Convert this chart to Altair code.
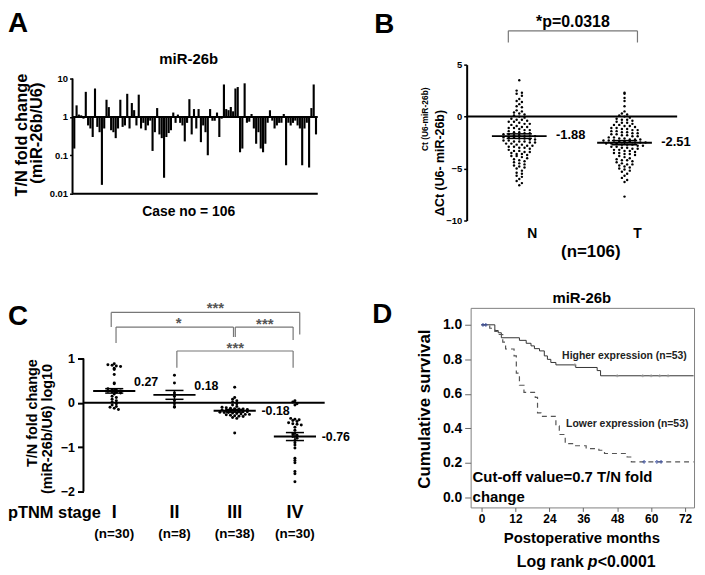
import altair as alt
import pandas as pd

FONT = "Liberation Sans"

# ---------------- Panel A: T/N fold change per case ----------------
fold_change = [
    0.15, 2.0, 1.15, 1.1, 0.9, 4.5, 0.6, 0.5, 0.3, 5.5,
    0.55, 0.4, 0.017, 0.5, 2.8, 1.8, 0.45, 0.4, 0.28, 0.5,
    2.8, 0.55, 0.6, 4.0, 0.5, 2.3, 1.5, 0.6, 3.8, 0.5,
    0.7, 0.45, 0.6, 0.8, 0.13, 0.4, 1.7, 0.35, 0.28, 0.026,
    0.3, 0.38, 0.45, 1.3, 0.7, 1.15, 0.7, 0.6, 0.23, 0.7,
    2.9, 0.35, 1.6, 0.5, 1.6, 0.22, 0.6, 0.4, 0.1, 1.6,
    0.8, 0.8, 1.3, 0.3, 0.9, 7.0, 1.6, 1.5, 1.8, 1.4,
    5.5, 6.0, 0.12, 0.15, 7.5, 0.7, 0.75, 1.2, 0.5, 0.2,
    0.4, 0.15, 0.12, 0.2, 0.7, 1.5, 0.8, 0.5, 0.6, 0.7,
    0.7, 1.2, 0.055, 0.7, 0.6, 0.7, 0.8, 0.6, 0.5, 0.055,
    0.5, 0.7, 0.048, 1.7, 7.0, 0.35,
]

# ---------------- Panel B: delta Ct, N vs T ----------------
b_groups = ["N", "T"]
dct_normal = [
    3.5, 2.5, 2.3, 2.2, 2.0, 1.7, 1.5, 1.4, 1.2, 1.0, 0.9, 0.6, 0.5, 0.4, 0.3, 0.2, 0.1,
    0.0, -0.1, -0.2, -0.3, -0.3, -0.4, -0.5, -0.5, -0.6, -0.7, -0.7, -0.8, -0.9, -1.0, -1.0, -1.1, -1.1,
    -1.2, -1.3, -1.3, -1.4, -1.5, -1.5, -1.6, -1.6, -1.7, -1.7, -1.8, -1.8, -1.9, -1.9, -1.9, -2.0, -2.0,
    -2.0, -2.1, -2.1, -2.2,
    -2.2, -2.3, -2.3, -2.4, -2.4, -2.4, -2.5, -2.5, -2.6, -2.6, -2.7, -2.7, -2.8, -2.8, -2.9, -2.9, -3.0, -3.0,
    -3.1, -3.2, -3.3, -3.3, -3.4, -3.4, -3.5, -3.6, -3.6, -3.7, -3.8, -3.8, -3.9, -4.0,
    -4.1, -4.2, -4.3, -4.4, -4.5, -4.6, -4.7, -4.8, -4.9, -5.0,
    -5.2, -5.4, -5.5, -5.7, -5.8, -6.0, -6.2, -6.4, -6.6,
]
dct_tumor = [
    2.3, 2.2, 1.8, 1.5, 1.0, 0.5, 0.3, 0.2, 0.1, 0.0,
    -0.1, -0.2, -0.3, -0.3, -0.4, -0.5, -0.6, -0.6, -0.7, -0.8, -0.8, -0.9, -0.9, -1.0,
    -1.1, -1.1, -1.2, -1.2, -1.3, -1.3, -1.4, -1.4, -1.5, -1.5, -1.6, -1.6, -1.7, -1.7, -1.8, -1.8, -1.9,
    -1.9, -2.0, -2.0,
    -2.1, -2.1, -2.2, -2.2, -2.2, -2.3, -2.3, -2.3, -2.4, -2.4, -2.4, -2.5, -2.5, -2.5, -2.6, -2.6, -2.6,
    -2.7, -2.7, -2.7, -2.8, -2.8, -2.9, -2.9, -3.0, -3.0,
    -3.1, -3.1, -3.2, -3.2, -3.3, -3.3, -3.4, -3.5, -3.5, -3.6, -3.6, -3.7, -3.8, -3.9, -4.0,
    -4.1, -4.2, -4.2, -4.3, -4.4, -4.5, -4.6, -4.6, -4.7, -4.8, -4.9, -5.0,
    -5.1, -5.2, -5.3, -5.5, -5.7, -5.9, -6.1, -6.3, -7.7,
]
b_means = [-1.88, -2.51]
b_sems = [0.22, 0.20]

# ---------------- Panel C: log10 fold change by pTNM stage ----------------
stage_labels = ["I", "II", "III", "IV"]
stage_counts = [30, 8, 38, 30]
stage_I = [0.88, 0.86, 0.85, 0.83, 0.82, 0.78, 0.75, 0.64, 0.45, 0.43, 0.32, 0.30, 0.29, 0.27, 0.26,
           0.25, 0.24, 0.22, 0.20, 0.15, 0.12, 0.08, 0.05, 0.02, -0.02, -0.05, -0.08, -0.10, -0.12, -0.15]
stage_II = [0.62, 0.45, 0.22, 0.15, 0.05, -0.02, -0.08, -0.10]
stage_III = [0.35, 0.12, 0.08, 0.05, 0.02, -0.02, -0.05, -0.08, -0.10, -0.11, -0.12, -0.13, -0.14, -0.14,
             -0.15, -0.16, -0.17, -0.18, -0.18, -0.19, -0.20, -0.20, -0.21, -0.22, -0.22, -0.23, -0.24,
             -0.25, -0.26, -0.26, -0.27, -0.28, -0.29, -0.30, -0.31, -0.33, -0.35, -0.68]
stage_IV = [0.05, 0.02, -0.02, -0.05, -0.35, -0.37, -0.38, -0.40, -0.42, -0.45, -0.47, -0.48, -0.50,
            -0.55, -0.62, -0.68, -0.70, -0.73, -0.76, -0.80, -0.85, -0.90, -0.95, -1.02, -1.25, -1.30,
            -1.35, -1.55, -1.60, -1.78]
c_means = [0.27, 0.18, -0.18, -0.76]
c_sems = [0.05, 0.10, 0.03, 0.09]
# significance brackets: (left, right, top, left end, right end, label, label x, label y)
c_brackets = [
    (0.95, 4.08, 2.04, 1.71, 1.54, "***", 2.68, 2.2),
    (1.03, 2.98, 1.71, 1.35, 1.485, "*", 2.07, 1.87),
    (3.01, 3.97, 1.71, 1.485, 1.416, "***", 3.5, 1.84),
    (2.04, 3.97, 1.17, 0.79, 0.79, "***", 3.01, 1.31),
]

# ---------------- Panel D: Kaplan-Meier ----------------
high_months = [0, 4.7, 5.9, 7.0, 13.4, 15.8, 17.5, 18.7, 20.5, 22.2, 23.3, 24.5, 26.3, 33.3, 40.9, 42.1, 75]
high_surv = [1.0, 0.967, 0.954, 0.925, 0.91, 0.893, 0.878, 0.862, 0.849, 0.82, 0.80, 0.782, 0.768, 0.753,
             0.735, 0.705, 0.705]
low_months = [0, 2.9, 4.7, 5.9, 7.5, 8.5, 11.5, 12.3, 13.4, 15.0, 19.0, 19.8, 21.0, 26.3, 27.5, 29.6, 33.0,
              37.0, 41.5, 43.5, 51.5, 53.0, 75]
low_surv = [1.0, 0.98, 0.962, 0.944, 0.90, 0.86, 0.82, 0.72, 0.65, 0.609, 0.58, 0.49, 0.47, 0.415, 0.365,
            0.312, 0.30, 0.283, 0.274, 0.255, 0.235, 0.207, 0.207]
cens_months = [0.5, 1.5, 57.5, 62.0, 63.5]
cens_surv = [1.0, 1.0, 0.207, 0.207, 0.207]
high_cens_months = [33.0, 48.0, 57.0, 60.0, 63.0, 66.0]
high_cens_surv = [0.768, 0.705, 0.705, 0.705, 0.705, 0.705]


def swarm(values, binw):
    bins = {}
    for i, v in enumerate(values):
        bins.setdefault(round(v / binw), []).append(i)
    slots = [0.0] * len(values)
    for idx in bins.values():
        n = len(idx)
        for k, i in enumerate(idx):
            slots[i] = k - (n - 1) / 2
    return slots


def label(text, x, y, size, align="center", baseline="alphabetic", angle=None,
          weight="bold", color="black", style=None):
    props = dict(text=text, font=FONT, fontSize=size, fontWeight=weight,
                 align=align, baseline=baseline, color=color)
    if angle is not None:
        props["angle"] = angle
    if style:
        props["fontStyle"] = style
    return alt.Chart(alt.Data(values=[{}])).mark_text(**props).encode(
        x=alt.value(x), y=alt.value(y))


def axis_style(**kw):
    base = dict(grid=False, title=None, labelFont=FONT, labelFontWeight="bold",
                labelColor="black", tickColor="black")
    base.update(kw)
    return alt.Axis(**base)


# ======================= Panel A =======================
dfA = pd.DataFrame({"case": list(range(1, len(fold_change) + 1)), "fc": fold_change})
yA = alt.Scale(type="log", domain=[0.01, 23.0], nice=False)
axA = axis_style(values=[0.01, 0.1, 1, 10], format="~g", domain=False,
                 tickSize=3, tickWidth=1.5, labelFontSize=9.5, labelPadding=2)
barsA = alt.Chart(dfA).mark_bar(color="black").encode(
    x=alt.X("case:O", axis=None, scale=alt.Scale(paddingInner=0.08, paddingOuter=0.3)),
    y=alt.Y("fc:Q", scale=yA, axis=axA),
    y2=alt.datum(1),
)
hlinesA = alt.Chart(pd.DataFrame({"y": [1, 0.01]})).mark_rule(color="black", strokeWidth=2).encode(
    y=alt.Y("y:Q", scale=yA, axis=axA))
vlineA = alt.Chart(pd.DataFrame({"y1": [0.01], "y2": [10]})).mark_rule(color="black", strokeWidth=2).encode(
    x=alt.value(0), y=alt.Y("y1:Q", scale=yA, axis=axA), y2="y2:Q")
panelA = alt.layer(
    barsA, hlinesA, vlineA,
    label("A", -65, -33, 28, align="left"),
    label("miR-26b", 117, -1, 15),
    label("T/N fold change", -46, 71, 16.5, angle=270),
    label("(miR-26b/U6)", -31, 69, 16.5, angle=270),
    label("Case no = " + str(len(fold_change)), 117, 152, 14),
).properties(width=247, height=130)

# ======================= Panel B =======================
rowsB = []
for gi, vals in enumerate([dct_normal, dct_tumor], start=1):
    for v, s in zip(vals, swarm(vals, 0.3)):
        rowsB.append({"g": gi, "v": v, "slot": s})
dfB = pd.DataFrame(rowsB)
xB = alt.Scale(domain=[0.538, 2.5], nice=False, zero=False)
yB = alt.Scale(domain=[-10, 5], nice=False, zero=False)
axB = axis_style(values=[-10, -5, 0, 5], domain=True, domainColor="black", domainWidth=2,
                 offset=4, tickSize=3, tickWidth=1.5, labelFontSize=9.5, labelPadding=2)
dotsB = alt.Chart(dfB).transform_calculate(xp="datum.g + datum.slot * 0.05").mark_circle(
    size=6, color="black", opacity=1).encode(
    x=alt.X("xp:Q", scale=xB, axis=None),
    y=alt.Y("v:Q", scale=yB, axis=axB),
)
statsB = pd.DataFrame({"g": [1, 2], "m": b_means, "sem": b_sems,
                       "lab": [f"{m:.2f}" for m in b_means], "name": b_groups})
baseB = alt.Chart(statsB)
meanB = baseB.transform_calculate(x1="datum.g - 0.26", x2="datum.g + 0.26").mark_rule(
    color="black", strokeWidth=2).encode(
    x=alt.X("x1:Q", scale=xB, axis=None), x2="x2:Q", y=alt.Y("m:Q", scale=yB, axis=axB))
errB = baseB.transform_calculate(lo="datum.m - datum.sem", hi="datum.m + datum.sem").mark_rule(
    color="black", strokeWidth=1.5).encode(
    x=alt.X("g:Q", scale=xB, axis=None), y=alt.Y("lo:Q", scale=yB, axis=axB), y2="hi:Q")
capB = baseB.transform_calculate(x1="datum.g - 0.12", x2="datum.g + 0.12").transform_fold(
    ["m_lo", "m_hi"]).transform_calculate(
    yy="datum.key == 'm_lo' ? datum.m - datum.sem : datum.m + datum.sem").mark_rule(
    color="black", strokeWidth=1.5).encode(
    x=alt.X("x1:Q", scale=xB, axis=None), x2="x2:Q", y=alt.Y("yy:Q", scale=yB, axis=axB))
meanLabB = baseB.mark_text(align="left", baseline="middle", dx=37, dy=-1, font=FONT,
                           fontSize=13, fontWeight="bold", color="black").encode(
    x=alt.X("g:Q", scale=xB, axis=None), y=alt.Y("m:Q", scale=yB, axis=axB), text="lab:N")
nameB = baseB.mark_text(align="center", baseline="alphabetic", dx=13, font=FONT, fontSize=14,
                        fontWeight="bold", color="black").encode(
    x=alt.X("g:Q", scale=xB, axis=None), y=alt.value(175), text="name:N")
zeroB = alt.Chart(pd.DataFrame({"x1": [0.5], "x2": [2.5], "y": [0]})).mark_rule(
    color="black", strokeWidth=2).encode(
    x=alt.X("x1:Q", scale=xB, axis=None), x2="x2:Q", y=alt.Y("y:Q", scale=yB, axis=axB))
brB = pd.DataFrame({"x1": [0.896, 0.896, 2.123], "x2": [2.123, 0.896, 2.123],
                    "y1": [8.25, 8.25, 8.25], "y2": [8.25, 7.13, 7.13]})
bracketB = alt.Chart(brB).mark_rule(color="#777777", strokeWidth=1.2).encode(
    x=alt.X("x1:Q", scale=xB, axis=None), x2="x2:Q",
    y=alt.Y("y1:Q", scale=yB, axis=axB), y2="y2:Q")
panelB = alt.layer(
    zeroB, dotsB, meanB, errB, capB, meanLabB, nameB, bracketB,
    label("B", -97, -32, 28, align="left"),
    label("*p=0.0318", 103, -38, 16),
    label("Ct (U6-miR-26b)", -43, 55, 8.5, angle=270),
    label("\u0394Ct (U6- miR-26b)", -27, 99, 12.5, angle=270),
    label("(n=" + str(len(dct_normal)) + ")", 121, 194, 17),
).properties(width=208, height=157)

# ======================= Panel C =======================
rowsC = []
for gi, vals in enumerate([stage_I, stage_II, stage_III, stage_IV], start=1):
    for v, s in zip(vals, swarm(vals, 0.06)):
        rowsC.append({"g": gi, "v": v, "slot": s})
dfC = pd.DataFrame(rowsC)
xC = alt.Scale(domain=[0.3077, 4.379], nice=False, zero=False)
yC = alt.Scale(domain=[-2, 2.142], nice=False, zero=False)
axC = axis_style(values=[-2, -1, 0, 1], domain=False, offset=-11, tickSize=6,
                 tickWidth=2, labelFontSize=12.5, labelPadding=3)
dotsC = alt.Chart(dfC).transform_calculate(xp="datum.g + datum.slot * 0.07").mark_circle(
    size=9, color="black", opacity=1).encode(
    x=alt.X("xp:Q", scale=xC, axis=None),
    y=alt.Y("v:Q", scale=yC, axis=axC),
)
statsC = pd.DataFrame({"g": [1, 2, 3, 4], "m": c_means, "sem": c_sems,
                       "lab": [f"{m:.2f}" for m in c_means], "name": stage_labels,
                       "n": [f"(n={c})" for c in stage_counts]})
baseC = alt.Chart(statsC)
meanC = baseC.transform_calculate(x1="datum.g - 0.35", x2="datum.g + 0.35").mark_rule(
    color="black", strokeWidth=2).encode(
    x=alt.X("x1:Q", scale=xC, axis=None), x2="x2:Q", y=alt.Y("m:Q", scale=yC, axis=axC))
errC = baseC.transform_calculate(lo="datum.m - datum.sem", hi="datum.m + datum.sem").mark_rule(
    color="black", strokeWidth=1.5).encode(
    x=alt.X("g:Q", scale=xC, axis=None), y=alt.Y("lo:Q", scale=yC, axis=axC), y2="hi:Q")
capC = baseC.transform_calculate(x1="datum.g - 0.15", x2="datum.g + 0.15").transform_fold(
    ["m_lo", "m_hi"]).transform_calculate(
    yy="datum.key == 'm_lo' ? datum.m - datum.sem : datum.m + datum.sem").mark_rule(
    color="black", strokeWidth=1.5).encode(
    x=alt.X("x1:Q", scale=xC, axis=None), x2="x2:Q", y=alt.Y("yy:Q", scale=yC, axis=axC))
meanLabC1 = baseC.transform_filter("datum.g <= 2").mark_text(
    align="left", baseline="middle", dx=20, dy=-9, font=FONT, fontSize=12.5, fontWeight="bold",
    color="black").encode(x=alt.X("g:Q", scale=xC, axis=None), y=alt.Y("m:Q", scale=yC, axis=axC),
                          text="lab:N")
meanLabC2 = baseC.transform_filter("datum.g > 2").mark_text(
    align="left", baseline="middle", dx=27, dy=0, font=FONT, fontSize=12.5, fontWeight="bold",
    color="black").encode(x=alt.X("g:Q", scale=xC, axis=None), y=alt.Y("m:Q", scale=yC, axis=axC),
                          text="lab:N")
nameC = baseC.mark_text(align="center", baseline="alphabetic", font=FONT, fontSize=18,
                        fontWeight="bold", color="black").encode(
    x=alt.X("g:Q", scale=xC, axis=None), y=alt.value(212), text="name:N")
countC = baseC.mark_text(align="center", baseline="alphabetic", font=FONT, fontSize=13.5,
                         fontWeight="bold", color="black").encode(
    x=alt.X("g:Q", scale=xC, axis=None), y=alt.value(232), text="n:N")
axisLinesC = pd.DataFrame({"x1": [0.489, 0.489], "x2": [0.489, 4.494],
                           "y1": [-2, 0], "y2": [1, 0]})
linesC = alt.Chart(axisLinesC).mark_rule(color="black", strokeWidth=2).encode(
    x=alt.X("x1:Q", scale=xC, axis=None), x2="x2:Q", y=alt.Y("y1:Q", scale=yC, axis=axC), y2="y2:Q")
segs = []
stars = []
for xl, xr, yt, yl, yr, lab, lx, ly in c_brackets:
    segs += [{"x1": xl, "x2": xr, "y1": yt, "y2": yt},
             {"x1": xl, "x2": xl, "y1": yt, "y2": yl},
             {"x1": xr, "x2": xr, "y1": yt, "y2": yr}]
    stars.append({"x": lx, "y": ly, "lab": lab})
bracketC = alt.Chart(pd.DataFrame(segs)).mark_rule(color="#777777", strokeWidth=1.2).encode(
    x=alt.X("x1:Q", scale=xC, axis=None), x2="x2:Q", y=alt.Y("y1:Q", scale=yC, axis=axC), y2="y2:Q")
starC = alt.Chart(pd.DataFrame(stars)).mark_text(
    align="center", baseline="alphabetic", dy=8, font=FONT, fontSize=15, fontWeight="bold",
    color="#555555").encode(
    x=alt.X("x:Q", scale=xC, axis=None), y=alt.Y("y:Q", scale=yC, axis=axC), text="lab:N")
panelC = alt.layer(
    linesC, dotsC, meanC, errC, capC, meanLabC1, meanLabC2, nameC, countC, bracketC, starC,
    label("C", -65, 17, 28, align="left"),
    label("T/N fold change", -36, 106, 14.5, angle=270),
    label("(miR-26b/U6)  log10", -21, 122, 14.5, angle=270),
    label("pTNM  stage", -65, 212, 16.5, align="left"),
).properties(width=247, height=185)

# ======================= Panel D =======================
xD = alt.Scale(domain=[-3.86, 75.16], nice=False, zero=False)
yD = alt.Scale(domain=[-0.057, 1.098], nice=False, zero=False)
axDx = axis_style(values=[0, 12, 24, 36, 48, 60, 72], domain=False, tickSize=4,
                  tickColor="#666666", labelFontSize=12, labelPadding=2)
axDy = axis_style(values=[0, 0.2, 0.4, 0.6, 0.8, 1.0], format=".1f", domain=False,
                  tickSize=6, tickColor="#666666", labelFontSize=14, labelPadding=3)
dfHigh = pd.DataFrame({"t": high_months, "s": high_surv})
dfLow = pd.DataFrame({"t": low_months, "s": low_surv})
highD = alt.Chart(dfHigh).mark_line(interpolate="step-after", color="#333333", strokeWidth=1).encode(
    x=alt.X("t:Q", scale=xD, axis=axDx), y=alt.Y("s:Q", scale=yD, axis=axDy))
lowD = alt.Chart(dfLow).mark_line(interpolate="step-after", color="#555555", strokeWidth=1.2,
                                  strokeDash=[5, 4]).encode(
    x=alt.X("t:Q", scale=xD, axis=axDx), y=alt.Y("s:Q", scale=yD, axis=axDy))
censD = alt.Chart(pd.DataFrame({"t": cens_months, "s": cens_surv})).mark_point(
    shape="cross", filled=True, size=14, color="#3a4fa0").encode(
    x=alt.X("t:Q", scale=xD, axis=axDx), y=alt.Y("s:Q", scale=yD, axis=axDy))
censH = alt.Chart(pd.DataFrame({"t": high_cens_months, "s": high_cens_surv})).mark_point(
    shape="cross", filled=True, size=10, color="#999999").encode(
    x=alt.X("t:Q", scale=xD, axis=axDx), y=alt.Y("s:Q", scale=yD, axis=axDy))
txtD = pd.DataFrame({"t": [28.5, 29.9], "s": [0.80, 0.41],
                     "lab": ["Higher expression (n=53)", "Lower expression (n=53)"]})
curveLab = alt.Chart(txtD).mark_text(align="left", baseline="alphabetic", font=FONT, fontSize=10.5,
                                     fontWeight="bold", color="#222222").encode(
    x=alt.X("t:Q", scale=xD, axis=axDx), y=alt.Y("s:Q", scale=yD, axis=axDy), text="lab:N")
cutD = pd.DataFrame({"t": [-3.16, -3.16], "s": [0.092, -0.023],
                     "lab": ["Cut-off value=0.7 T/N fold", "change"]})
cutLab = alt.Chart(cutD).mark_text(align="left", baseline="alphabetic", font=FONT, fontSize=15,
                                   fontWeight="bold", color="black").encode(
    x=alt.X("t:Q", scale=xD, axis=axDx), y=alt.Y("s:Q", scale=yD, axis=axDy), text="lab:N")
panelD = alt.layer(
    highD, lowD, censD, censH, curveLab, cutLab,
    label("D", -99, 15, 28, align="left"),
    label("miR-26b", 112, -5, 15),
    label("Cumulative survival", -41, 102, 17, angle=270),
    label("Postoperative months", 112, 237, 15),
    label("Log rank", 114, 261, 16, align="right"),
    label("p", 118, 261, 16, align="left", style="italic"),
    label("<0.0001", 128, 261, 16, align="left"),
).properties(width=225, height=201,
             view=alt.ViewBackground(stroke="#808080", strokeWidth=1))

chart = alt.concat(
    panelA, panelB, panelC, panelD,
    columns=2, spacing={"row": 88, "column": 154}, bounds="flush", align="each", padding=0,
).configure(font=FONT).configure_view(stroke=None)

chart.save("out.html", embed_options={"renderer": "svg", "actions": False})
